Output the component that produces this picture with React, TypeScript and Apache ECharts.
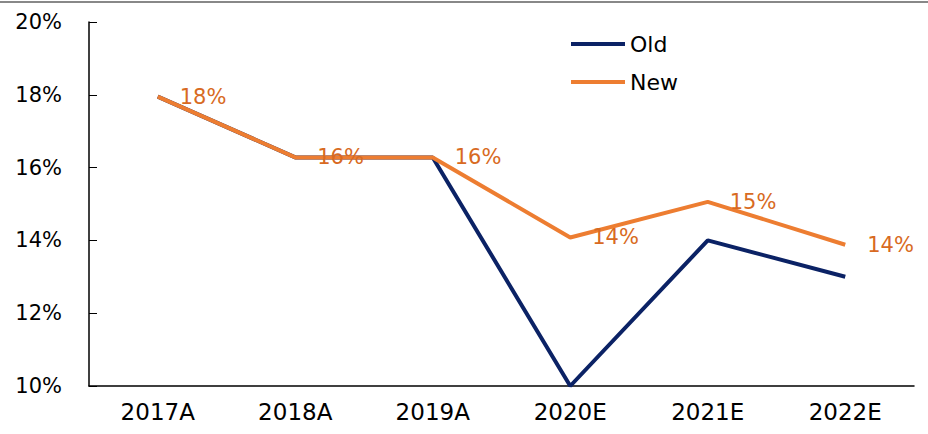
import React, { useEffect, useRef } from "react";
import * as echarts from "echarts";

const categories = ["2017A", "2018A", "2019A", "2020E", "2021E", "2022E"];
const oldValues = [17.95, 16.28, 16.28, 10.0, 14.0, 13.0];
const newValues = [17.95, 16.28, 16.28, 14.08, 15.06, 13.88];

const FONT = "'DejaVu Sans', 'Noto Sans', sans-serif";

export default function App() {
  const ref = useRef<HTMLDivElement>(null);
  useEffect(() => {
    if (!ref.current) return;
    const chart = echarts.init(ref.current, null, { renderer: "svg" });
    chart.setOption({
      animation: false,
      textStyle: { fontFamily: FONT },
      graphic: [
        {
          type: "line",
          shape: { x1: 0, y1: 2, x2: 928, y2: 2 },
          style: { stroke: "#888888", lineWidth: 2 },
        },
      ],
      legend: {
        orient: "vertical",
        left: 566,
        top: 28,
        itemWidth: 54,
        itemHeight: 14,
        itemGap: 16,
        icon: "path://M0,5 L54,5 L54,9 L0,9 Z",
        textStyle: { fontSize: 22, color: "#000", fontFamily: FONT },
        data: ["Old", "New"],
      },
      grid: { left: 89, right: 14, top: 22, bottom: 48 },
      xAxis: {
        type: "category",
        data: categories,
        boundaryGap: true,
        axisLine: { lineStyle: { color: "#000", width: 1.5 } },
        axisTick: { inside: true, length: 8, lineStyle: { color: "#000", width: 1 } },
        axisLabel: { fontSize: 23, color: "#000", margin: 14, fontFamily: FONT },
      },
      yAxis: {
        type: "value",
        min: 10,
        max: 20,
        interval: 2,
        splitLine: { show: false },
        axisLine: { show: true, lineStyle: { color: "#000", width: 1.5 } },
        axisTick: { show: true, inside: true, length: 8, lineStyle: { color: "#000", width: 1 } },
        axisLabel: { fontSize: 21, color: "#000", margin: 27, formatter: "{value}%", fontFamily: FONT },
      },
      series: [
        {
          name: "Old",
          type: "line",
          data: oldValues,
          symbol: "none",
          lineStyle: { color: "#0B2265", width: 4 },
          itemStyle: { color: "#0B2265" },
        },
        {
          name: "New",
          type: "line",
          data: newValues,
          symbol: "circle",
          symbolSize: 0,
          showSymbol: true,
          lineStyle: { color: "#ED7D31", width: 4 },
          itemStyle: { color: "#ED7D31" },
          label: {
            show: true,
            position: "right",
            distance: 22,
            fontSize: 21,
            color: "#D86A22",
            fontFamily: FONT,
            formatter: (p: any) => Math.round(p.value) + "%",
          },
        },
      ],
    });
    return () => chart.dispose();
  }, []);
  return (
    <div
      ref={ref}
      style={{ position: "fixed", left: 0, top: 0, width: 928, height: 434, background: "#fff" }}
    />
  );
}
